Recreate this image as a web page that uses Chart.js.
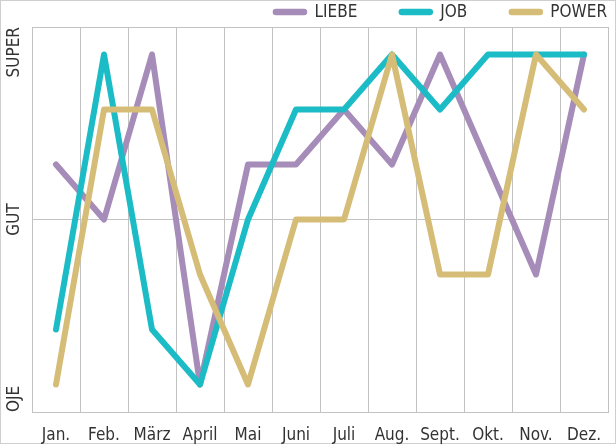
<!DOCTYPE html>
<html>
<head>
<meta charset="utf-8">
<script src="https://cdn.jsdelivr.net/npm/chart.js@4"></script>
<style>
    html, body { margin: 0; padding: 0; background: #fff; }
    #wrap { width: 616px; height: 444px; }
</style>
</head>
<body>
<div id="wrap"><canvas id="moodChart" width="616" height="444"></canvas></div>
<script>
(function () {
    'use strict';

    // 0 = OJE, 3 = GUT, 6 = SUPER
    const monate = ["Jan.", "Feb.", "März", "April", "Mai", "Juni", "Juli", "Aug.", "Sept.", "Okt.", "Nov.", "Dez."];
    const liebe = [4, 3, 6, 0, 4, 4, 5, 4, 6, 4, 2, 6];
    const job   = [1, 6, 1, 0, 3, 5, 5, 6, 5, 6, 6, 6];
    const power = [0, 5, 5, 2, 0, 3, 3, 6, 2, 2, 6, 5];
    const yLabels = [
        { text: "SUPER", value: 6.5, align: "right" },
        { text: "GUT", value: 3, align: "center" },
        { text: "OJE", value: -0.5, align: "left" }
    ];

    const FONT = '"Liberation Sans Narrow", "DejaVu Sans Condensed", Roboto, sans-serif';
    const TXT = "#333";
    const FSIZE = 17;

    const seriesDefs = [
        { label: "LIEBE", data: liebe, color: "#a68cb8", order: 2 },
        { label: "JOB", data: job, color: "#1cbcc7", order: 1 },
        { label: "POWER", data: power, color: "#d5bd78", order: 0 }
    ];

    // border around the whole picture
    const frame = {
        id: "frame",
        beforeDraw(chart) {
            const c = chart.ctx;
            c.save();
            c.strokeStyle = "#cfcfcf";
            c.lineWidth = 1;
            c.strokeRect(0.5, 0.5, chart.width - 1, chart.height - 1);
            c.restore();
        }
    };

    // rotated y labels
    const yText = {
        id: "yText",
        afterDraw(chart) {
            const c = chart.ctx;
            const y = chart.scales.y;
            c.save();
            c.font = FSIZE + "px " + FONT;
            c.fillStyle = TXT;
            c.textBaseline = "middle";
            yLabels.forEach(l => {
                c.save();
                c.translate(15, y.getPixelForValue(l.value));
                c.rotate(-Math.PI / 2);
                c.textAlign = l.align;
                c.fillText(l.text, 0, 0);
                c.restore();
            });
            c.restore();
        }
    };

    // legend top right with rounded line swatches
    const legendTop = {
        id: "legendTop",
        afterDraw(chart) {
            const c = chart.ctx;
            c.save();
            c.font = FSIZE + "px " + FONT;
            c.textBaseline = "middle";
            c.textAlign = "left";
            let right = 607;
            const cy = 12;
            for (let i = seriesDefs.length - 1; i >= 0; i--) {
                const s = seriesDefs[i];
                const w = c.measureText(s.label).width;
                const tx = right - w;
                c.fillStyle = TXT;
                c.fillText(s.label, tx, cy + 1);
                const x1 = tx - 7, x0 = x1 - 35;
                c.strokeStyle = s.color;
                c.lineWidth = 6.5;
                c.lineCap = "round";
                c.beginPath();
                c.moveTo(x0 + 3.5, cy);
                c.lineTo(x1 - 3.5, cy);
                c.stroke();
                right = x0 - 41;
            }
            c.restore();
        }
    };

    const ctx = document.getElementById("moodChart");
    new Chart(ctx, {
        type: "line",
        data: {
            labels: monate,
            datasets: seriesDefs.map(s => ({
                label: s.label,
                data: s.data,
                borderColor: s.color,
                backgroundColor: s.color,
                borderWidth: 6,
                borderJoinStyle: "round",
                borderCapStyle: "round",
                pointRadius: 0,
                tension: 0,
                order: s.order
            }))
        },
        options: {
            responsive: false,
            animation: false,
            layout: { padding: { top: 27, right: 8, left: 0, bottom: 0 } },
            plugins: {
                legend: { display: false },
                tooltip: { enabled: false }
            },
            scales: {
                x: {
                    offset: true,
                    grid: { offset: true, color: "#c2c2c2", lineWidth: 1, drawTicks: false },
                    border: { color: "#c2c2c2" },
                    ticks: { color: TXT, font: { family: FONT, size: FSIZE }, padding: 13, maxRotation: 0 },
                    afterFit(scale) { scale.height = 32; }
                },
                y: {
                    min: -0.5,
                    max: 6.5,
                    afterBuildTicks(scale) {
                        scale.ticks = [{ value: -0.5 }, { value: 3 }, { value: 6.5 }];
                    },
                    grid: { color: "#c2c2c2", lineWidth: 1, drawTicks: false },
                    border: { color: "#c2c2c2" },
                    ticks: { display: false },
                    afterFit(scale) { scale.width = 32; }
                }
            }
        },
        plugins: [frame, yText, legendTop]
    });
})();
</script>
</body>
</html>
